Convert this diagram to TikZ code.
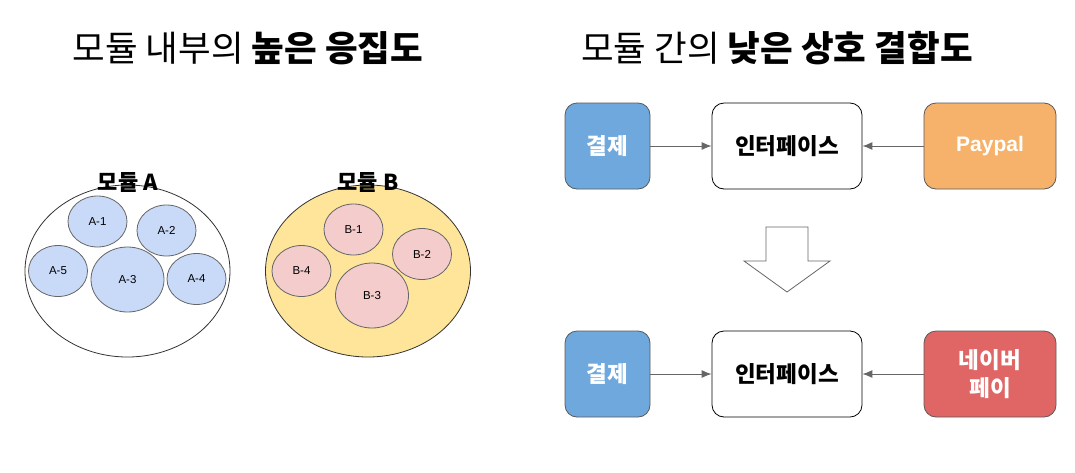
\documentclass[tikz,border=0pt]{standalone}
\usepackage{fontspec}
\setmainfont{Liberation Sans}
\newfontfamily\kr{Noto Sans CJK KR}
\usetikzlibrary{shapes.geometric, arrows, arrows.meta}
\definecolor{partblue}{HTML}{C9DAF8}
\definecolor{partpink}{HTML}{F4CCCC}
\definecolor{modyellow}{HTML}{FFE599}
\definecolor{payblue}{HTML}{6FA8DC}
\definecolor{payorange}{HTML}{F6B26B}
\definecolor{payred}{HTML}{E06666}
\tikzstyle{title} = [font=\kr\fontsize{35.5}{38}\selectfont]
\tikzstyle{modlabel} = [font=\kr\bfseries\fontsize{22}{24}\selectfont]
\tikzstyle{module} = [ellipse, draw=black!80, line width=0.8pt, minimum width=205pt, minimum height=172pt]
\tikzstyle{part} = [ellipse, draw=black!60, line width=0.8pt, font=\fontsize{11.5}{12}\selectfont, inner sep=0pt]
\tikzstyle{small} = [part, minimum width=59pt, minimum height=51pt]
\tikzstyle{large} = [part, minimum width=73pt, minimum height=65pt]
\tikzstyle{block} = [rectangle, rounded corners=12pt, minimum height=86pt, draw=black!65, line width=0.8pt, text=white, align=center, font=\kr\bfseries\fontsize{22.5}{28}\selectfont]
\tikzstyle{iface} = [block, minimum width=150pt, draw=black, fill=white, text=black]
\tikzstyle{arrow} = [draw=black!60, line width=1pt, -{Latex[length=10pt, width=8pt]}]

\begin{document}
\begin{tikzpicture}[x=1pt, y=-1pt]
		\useasboundingbox (0,0) rectangle (1075,472);
		% left: cohesion
		\node (cohtitle) [title] at (248,48) {모듈 내부의 {\bfseries 높은 응집도}};
		\node (moda) [module, fill=white] at (127.5,271) {};
		\node (a1) [small, fill=partblue] at (97.5,221.5) {A-1};
		\node (a2) [small, fill=partblue] at (166.5,230.5) {A-2};
		\node (a3) [large, fill=partblue] at (127.5,279.5) {A-3};
		\node (a4) [small, fill=partblue] at (196.5,279) {A-4};
		\node (a5) [small, fill=partblue] at (58,271) {A-5};
		\node (modalabel) [modlabel] at (128,182) {모듈 A};
		\node (modb) [module, fill=modyellow] at (368,271) {};
		\node (b1) [small, fill=partpink] at (353.5,229.5) {B-1};
		\node (b2) [small, fill=partpink] at (422,254) {B-2};
		\node (b3) [large, fill=partpink] at (372,295.5) {B-3};
		\node (b4) [small, fill=partpink] at (301.5,271) {B-4};
		\node (modblabel) [modlabel] at (368,182) {모듈 B};
		% right: coupling
		\node (coutitle) [title] at (777,48) {모듈 간의 {\bfseries 낮은 상호 결합도}};
		\node (pay) [block, minimum width=85pt, fill=payblue] at (607.5,146) {결제};
		\node (iface) [iface] at (787,146) {인터페이스};
		\node (paypal) [block, minimum width=132pt, fill=payorange, font=\bfseries\fontsize{21}{24}\selectfont] at (990,146) {Paypal};
		\draw [arrow] (pay) -- (iface);
		\draw [arrow] (paypal) -- (iface);
		\draw [draw=black!60, line width=0.8pt, fill=white] (766,227) -- (808,227) -- (808,261) -- (830,261) -- (787,292) -- (744,261) -- (766,261) -- cycle;
		\node (paynew) [block, minimum width=85pt, fill=payblue] at (607.5,374) {결제};
		\node (ifacenew) [iface] at (787,374) {인터페이스};
		\node (naver) [block, minimum width=132pt, fill=payred] at (990,374) {네이버\\페이};
		\draw [arrow] (paynew) -- (ifacenew);
		\draw [arrow] (naver) -- (ifacenew);
	\end{tikzpicture}
\end{document}
